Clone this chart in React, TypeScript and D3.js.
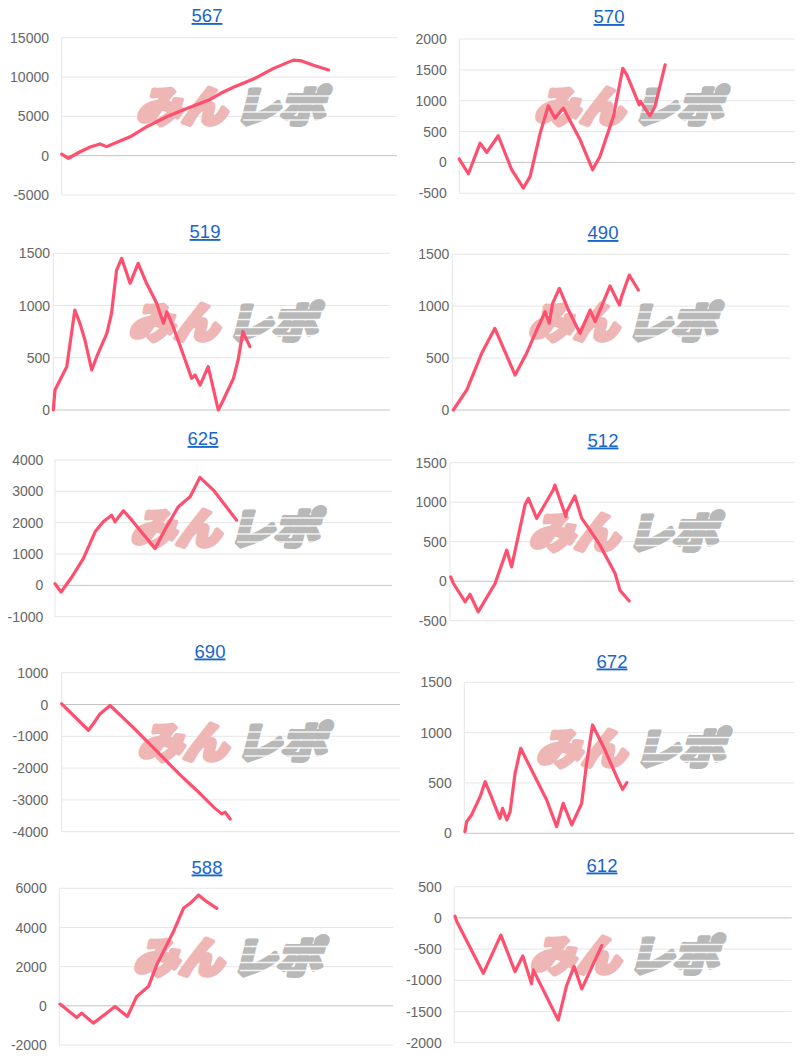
import React from "react";
import * as d3 from "d3";

// ---- data (x = % of session elapsed, y = cumulative difference) ----
const titles = ["567", "570", "519", "490", "625", "512", "690", "672", "588", "612"];

const ticks567 = [-5000, 0, 5000, 10000, 15000];
const ticks570 = [-500, 0, 500, 1000, 1500, 2000];
const ticks519 = [0, 500, 1000, 1500];
const ticks490 = [0, 500, 1000, 1500];
const ticks625 = [-1000, 0, 1000, 2000, 3000, 4000];
const ticks512 = [-500, 0, 500, 1000, 1500];
const ticks690 = [-4000, -3000, -2000, -1000, 0, 1000];
const ticks672 = [0, 500, 1000, 1500];
const ticks588 = [-2000, 0, 2000, 4000, 6000];
const ticks612 = [-2000, -1500, -1000, -500, 0, 500];

const series567: [number, number][] = [
  [0, 200], [2, -330], [5.5, 500], [8.5, 1100], [11.4, 1490], [13.4, 1150], [17, 1800], [20.4, 2400],
  [25.4, 3700], [31.3, 4950], [37.3, 6000], [44.3, 7150], [47.3, 7900], [51.2, 8700], [57.2, 9750],
  [63.2, 11100], [69.1, 12150], [71.6, 12050], [75.1, 11500], [79.6, 10900],
];
const series570: [number, number][] = [
  [0, 55], [2.7, -183], [6.2, 313], [8.2, 162], [11.6, 432], [15.6, -118], [19.1, -415], [21.1, -226],
  [24.1, 475], [26.5, 917], [28.5, 718], [31, 880], [36, 367], [39.7, -118], [41.9, 97], [45.9, 744],
  [48.7, 1526], [49.9, 1418], [53.6, 933], [54, 987], [56.8, 755], [58.3, 905], [61.3, 1580],
];
const series519: [number, number][] = [
  [0, 0], [0.5, 191], [2, 287], [4, 415], [6.4, 957], [7.9, 830], [9.4, 670], [11.4, 383], [12.9, 510],
  [15.9, 734], [17.3, 926], [18.8, 1340], [20.3, 1452], [22.8, 1213], [25.2, 1404], [27.7, 1213],
  [30.7, 1021], [32.7, 830], [33.7, 941], [35.6, 797], [38.1, 574], [41.1, 303], [42.1, 335], [43.6, 239],
  [46, 415], [49, 0], [50.5, 96], [53.5, 303], [54.9, 479], [56.3, 750], [58.4, 606],
];
const series490: [number, number][] = [
  [0.3, 0], [4.3, 193], [8.7, 546], [12.6, 787], [18.6, 337], [22, 546], [25, 771], [27.5, 947],
  [28.7, 835], [29.7, 1028], [31.7, 1172], [34.4, 963], [37.8, 739], [40.8, 963], [42.3, 851],
  [46.7, 1195], [49.5, 1012], [50.2, 1098], [52.4, 1300], [55.1, 1156],
];
const series625: [number, number][] = [
  [0, 53], [1.8, -213], [5, 267], [8.4, 853], [11.9, 1707], [14.3, 2027], [16.8, 2240], [17.8, 2027],
  [20.3, 2379], [22.8, 2080], [29.7, 1173], [33.1, 1867], [36.6, 2507], [40.1, 2827], [43, 3445],
  [47, 3040], [53.9, 2080],
];
const series512: [number, number][] = [
  [0.2, 55], [1, -29], [4.4, -262], [5.8, -165], [8.2, -389], [13.1, -29], [16.5, 393], [17.9, 181],
  [21.8, 964], [22.8, 1049], [25.2, 795], [30, 1154], [30.5, 1217], [33.7, 815], [33.9, 879],
  [36.3, 1078], [38.3, 795], [40.7, 647], [43.6, 456], [48, 98], [49.4, -114], [52.1, -250],
];
const series690: [number, number][] = [
  [0, 22], [7.9, -810], [8.9, -671], [11.3, -298], [14.3, -32], [21.2, -725], [28.1, -1470],
  [35, -2214], [40.9, -2800], [44.9, -3227], [47.3, -3440], [48.3, -3385], [49.8, -3600],
];
const series672: [number, number][] = [
  [0.2, 17], [0.7, 115], [2.2, 182], [4.8, 364], [6.3, 513], [7.8, 397], [10.8, 149], [11.6, 248],
  [12.9, 132], [13.9, 215], [15.4, 596], [17.1, 844], [20.9, 596], [25, 331], [28, 66], [30, 298],
  [32.6, 83], [35.6, 298], [37.1, 695], [38.9, 1076], [42.2, 860], [46.2, 562], [48, 437], [49.3, 503],
];
const series588: [number, number][] = [
  [0.2, 87], [5.2, -596], [6.7, -372], [10.2, -882], [14.2, -372], [16.7, -36], [20.4, -545],
  [23.2, 474], [26.7, 984], [29.2, 2090], [34.2, 3787], [37.2, 4977], [39.2, 5232], [41.7, 5657],
  [44.2, 5317], [47.2, 4977],
];
const series612: [number, number][] = [
  [0.2, 28], [0.7, -55], [8.6, -888], [13.8, -277], [18, -860], [20.3, -610], [22.9, -1055],
  [23.4, -833], [30.8, -1638], [33.3, -1083], [35.5, -777], [37.8, -1138], [43.7, -443],
];

const allTicks = [ticks567, ticks570, ticks519, ticks490, ticks625, ticks512, ticks690, ticks672, ticks588, ticks612];
const allSeries = [series567, series570, series519, series490, series625, series512, series690, series672, series588, series612];

// ---- layout (positions only) ----
const layout = [
  { left: 61.7, right: 397, top: 37.7, bottom: 195, titleX: 207, titleY: 22, labelRight: 49 },
  { left: 459.3, right: 795, top: 39, bottom: 193.3, titleX: 609, titleY: 23, labelRight: 446.7 },
  { left: 53.3, right: 390, top: 253.3, bottom: 410, titleX: 205, titleY: 238, labelRight: 50 },
  { left: 452.3, right: 790, top: 254.3, bottom: 410, titleX: 603, titleY: 239, labelRight: 449.3 },
  { left: 55, right: 392, top: 460, bottom: 616.7, titleX: 203, titleY: 445, labelRight: 43.3 },
  { left: 450, right: 794, top: 462.7, bottom: 620.7, titleX: 603, titleY: 446.5, labelRight: 446.7 },
  { left: 61.7, right: 400, top: 672.7, bottom: 831.7, titleX: 210, titleY: 657.5, labelRight: 48.3 },
  { left: 464.3, right: 794, top: 682.3, bottom: 833.3, titleX: 612, titleY: 667.5, labelRight: 451.7 },
  { left: 59.3, right: 393, top: 888.3, bottom: 1045, titleX: 207, titleY: 873.5, labelRight: 46.7 },
  { left: 454.3, right: 791.7, top: 886.7, bottom: 1042.7, titleX: 602, titleY: 871.5, labelRight: 441.7 },
];

const FONT = "'Liberation Sans', Arial, Helvetica, sans-serif";
const JP = "'Noto Sans CJK JP', sans-serif";

function Watermark({ cx, cy }: { cx: number; cy: number }) {
  const x0 = cx - 95;
  const base = cy + 16;
  return (
    <g transform={`translate(${x0},${base}) skewX(-14)`} style={{ pointerEvents: "none" }}>
      <text x={2} y={0} fontFamily={JP} fontWeight={900} fontSize={42}
        fill="#efb6b6" stroke="#efb6b6" strokeWidth={4.5} strokeLinejoin="round"
        textLength={90} lengthAdjust="spacingAndGlyphs">みん</text>
      <text x={100} y={0} fontFamily={JP} fontWeight={900} fontSize={42}
        fill="#b8b8b8" stroke="#b8b8b8" strokeWidth={4.5} strokeLinejoin="round"
        textLength={90} lengthAdjust="spacingAndGlyphs">レポ</text>
      {[-27, -19, -11, -3].map((dy, i) => (
        <rect key={i} x={96 + i * 4} y={dy} width={100} height={1.5} fill="#fff" opacity={0.85} />
      ))}
    </g>
  );
}

function Panel({ idx }: { idx: number }) {
  const L = layout[idx];
  const ticks = allTicks[idx];
  const data = allSeries[idx];
  const y = d3.scaleLinear().domain([d3.min(ticks)!, d3.max(ticks)!]).range([L.bottom, L.top]);
  const x = d3.scaleLinear().domain([0, 100]).range([L.left, L.right]);
  const line = d3.line<[number, number]>().x((d) => x(d[0])).y((d) => y(d[1]));
  const cx = (L.left + L.right) / 2;
  const cy = (L.top + L.bottom) / 2 - 10;
  return (
    <g>
      <text x={L.titleX} y={L.titleY} textAnchor="middle" fontFamily={FONT} fontSize={18.5}
        fill="#1766cc" textDecoration="underline">{titles[idx]}</text>
      {ticks.map((t) => (
        <g key={t}>
          <line x1={L.left} x2={L.right} y1={y(t)} y2={y(t)}
            stroke={t === 0 ? "#c4c4c4" : "#e6e6e6"} strokeWidth={1} />
          <text x={L.labelRight} y={y(t)} dy="0.36em" textAnchor="end" fontFamily={FONT}
            fontSize={14} fill="#666">{t}</text>
        </g>
      ))}
      <line x1={L.left} x2={L.left} y1={L.top} y2={L.bottom} stroke="#e6e6e6" strokeWidth={1} />
      <Watermark cx={cx} cy={cy} />
      <path d={line(data) ?? ""} fill="none" stroke="#ff4f6e" strokeWidth={3.2}
        strokeLinejoin="round" strokeLinecap="round" />
    </g>
  );
}

export default function App() {
  return (
    <div style={{ position: "absolute", left: 0, top: 0 }}>
      <svg width={800} height={1059} style={{ display: "block", background: "#fff" }}>
        {titles.map((_, i) => (
          <Panel key={i} idx={i} />
        ))}
      </svg>
    </div>
  );
}
